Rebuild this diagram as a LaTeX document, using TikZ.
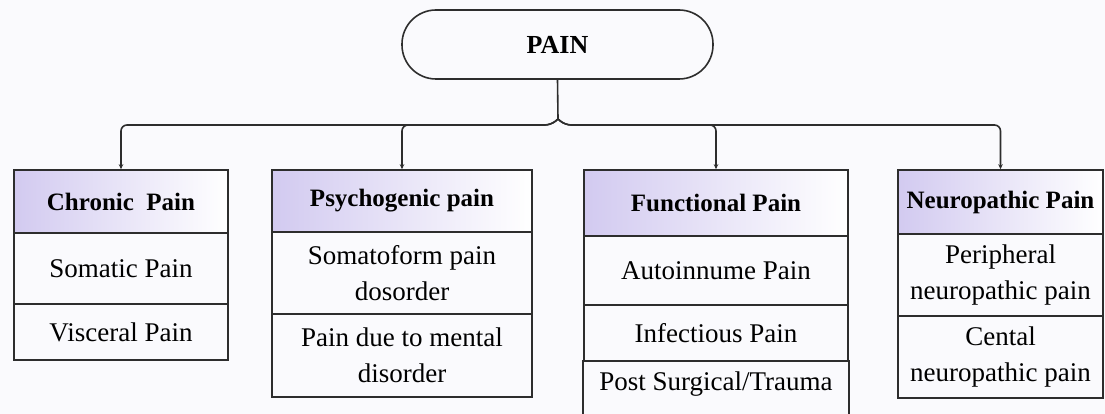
\documentclass[tikz,border=0pt]{standalone}
\usepackage{fontspec}
\setmainfont{Liberation Serif}
\usetikzlibrary{arrows.meta}
\definecolor{lc}{RGB}{45,45,45}
\definecolor{lav}{RGB}{210,202,240}
\definecolor{bg}{RGB}{250,250,253}
\begin{document}
\begin{tikzpicture}[x=1pt,y=-1pt,
  cell/.style={draw=lc, line width=1.6pt, align=center, inner sep=0pt,
    font=\fontsize{27}{36}\selectfont},
  hd/.style={cell, left color=lav, right color=white,
    font=\bfseries\fontsize{25}{30}\selectfont},
  conn/.style={draw=lc, line width=1.6pt},
  arr/.style={conn, rounded corners=6pt, -{Stealth[length=5pt,width=4.5pt]}}]
\useasboundingbox (0,0) rectangle (1105,414);
\fill[bg] (0,0) rectangle (1105,414);
\clip (0,0) rectangle (1105,414);

% root
\node[draw=lc, line width=1.6pt, rounded corners=34pt, minimum width=311pt,
  minimum height=69pt, font=\bfseries\fontsize{26}{30}\selectfont, fill=bg]
  (pain) at (557.5,44.5) {PAIN};

% Chronic
\node[hd, minimum width=214pt, minimum height=63pt] (c0) at (121,201.5) {Chronic\ \ Pain};
\node[cell, minimum width=214pt, minimum height=71pt] (c1) at (121,268.5) {Somatic Pain};
\node[cell, minimum width=214pt, minimum height=56pt] (c2) at (121,332) {Visceral Pain};

% Psychogenic
\node[hd, minimum width=260pt, minimum height=62pt] (p0) at (402,201) {Psychogenic pain};
\node[cell, minimum width=260pt, minimum height=82pt] (p1) at (402,273) {Somatoform pain\\dosorder};
\node[cell, minimum width=260pt, minimum height=83pt] (p2) at (402,355.5) {Pain due to mental\\disorder};

% Functional
\node[hd, minimum width=264pt, minimum height=66pt] (f0) at (716,203) {Functional Pain};
\node[cell, minimum width=264pt, minimum height=69pt] (f1) at (716,270.5) {Autoinnume Pain};
\node[cell, minimum width=264pt, minimum height=56pt] (f2) at (716,333) {Infectious Pain};
\node[cell, draw=none, minimum width=264pt, minimum height=46pt] (f3) at (716,384) {Post Surgical/Trauma};
\draw[conn] (f3.north west) -- ([yshift=-40pt]f3.south west);
\draw[conn] (f3.north east) -- ([yshift=-40pt]f3.south east);

% Neuropathic
\node[hd, minimum width=205pt, minimum height=64pt] (n0) at (1000.5,202) {Neuropathic Pain};
\node[cell, minimum width=205pt, minimum height=82pt] (n1) at (1000.5,275) {Peripheral\\neuropathic pain};
\node[cell, minimum width=205pt, minimum height=82pt] (n2) at (1000.5,357) {Cental\\neuropathic pain};

% connectors
\coordinate (hub) at (558,119);
\draw[conn] (pain.south) -- (hub);
\draw[arr] (hub) -- (551,125) -| (c0.north);
\draw[arr] (hub) -- (551,125) -| (p0.north);
\draw[arr] (hub) -- (565,125) -| (f0.north);
\draw[arr] (hub) -- (565,125) -| (n0.north);
\end{tikzpicture}
\end{document}
